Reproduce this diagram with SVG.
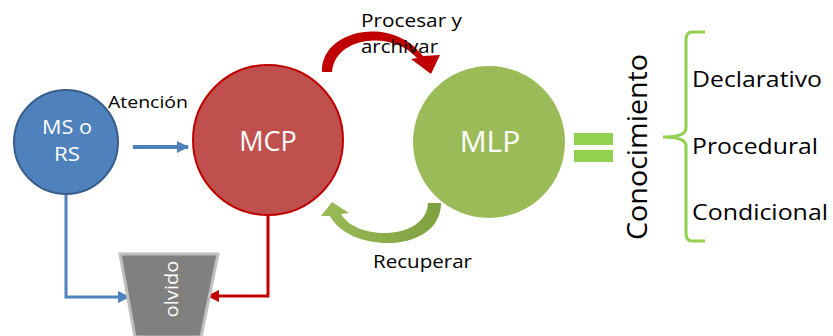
<svg xmlns="http://www.w3.org/2000/svg" width="833" height="336" viewBox="0 0 833 336">
<style>
.lbl{font-family:"Open Sans","Liberation Sans",sans-serif;fill:#000}
.wt{font-family:"Open Sans","Liberation Sans",sans-serif;fill:#fff}
.c{text-anchor:middle}
</style>
<defs>
<marker id="ab" markerWidth="12" markerHeight="12" refX="11" refY="6" orient="auto" markerUnits="userSpaceOnUse"><path d="M0,0 L12,6 L0,12 Z" fill="#4F81BD"/></marker>
<marker id="ar" markerWidth="12" markerHeight="12" refX="11" refY="6" orient="auto" markerUnits="userSpaceOnUse"><path d="M0,0 L12,6 L0,12 Z" fill="#C00000"/></marker>
<linearGradient id="gg" x1="0" y1="0" x2="1" y2="0"><stop offset="0" stop-color="#9BBB59"/><stop offset="1" stop-color="#7FA03F"/></linearGradient>
</defs>
<rect width="833" height="336" fill="#fff"/>
<g id="connectors">
<line x1="133" y1="147" x2="188" y2="147" stroke="#4F81BD" stroke-width="4" marker-end="url(#ab)"/>
<path d="M66,195 V297 H129" fill="none" stroke="#4F81BD" stroke-width="3" marker-end="url(#ab)"/>
<path d="M268,216 V296 H208" fill="none" stroke="#C00000" stroke-width="3" marker-end="url(#ar)"/>
<path d="M322,72 C320,30 392,14 423,56 L440,55 L431,74 L411,59 L417,58 C392,30 335,36 332,72 Z" fill="#C00000"/>
<path d="M441,203 C441,254 350,254 330,216 L321,216 L332,202 L349,213 L341,214 C356,241 426,241 428,203 Z" fill="url(#gg)"/>
</g>
<g id="ms">
<circle cx="66" cy="142" r="52" fill="#4F81BD" stroke="#385D8A" stroke-width="2"/>
<text class="wt c" x="67" y="134" font-size="20" textLength="50" lengthAdjust="spacingAndGlyphs">MS o</text>
<text class="wt c" x="67" y="161" font-size="20" textLength="26" lengthAdjust="spacingAndGlyphs">RS</text>
</g>
<text class="lbl" x="108" y="108" font-size="16" textLength="80" lengthAdjust="spacingAndGlyphs">Atención</text>
<g id="mcp">
<circle cx="268" cy="140" r="75" fill="#C0504D" stroke="#C00000" stroke-width="2"/>
<text class="wt c" x="268" y="151" font-size="27">MCP</text>
</g>
<g id="mlp">
<circle cx="489" cy="142" r="76" fill="#9BBB59"/>
<text class="wt c" x="490" y="152" font-size="30">MLP</text>
</g>
<g id="olvido">
<path d="M120,254 H218 L201,337 H135 Z" fill="#808080" stroke="#BFBFBF" stroke-width="3"/>
<text class="wt c" transform="translate(178,289) rotate(-90)" font-size="19" textLength="57" lengthAdjust="spacingAndGlyphs">olvido</text>
</g>
<text class="lbl" x="361" y="27" font-size="19" textLength="101" lengthAdjust="spacingAndGlyphs">Procesar y</text>
<text class="lbl" x="361" y="53" font-size="19" textLength="77" lengthAdjust="spacingAndGlyphs">archivar</text>
<text class="lbl" x="373" y="268" font-size="19" textLength="99" lengthAdjust="spacingAndGlyphs">Recuperar</text>
<g id="equals">
<rect x="574" y="133" width="39" height="12" fill="#92D050"/>
<rect x="574" y="150" width="39" height="12" fill="#92D050"/>
</g>
<text class="lbl c" transform="translate(647,147) rotate(-90)" font-size="28" textLength="186" lengthAdjust="spacingAndGlyphs">Conocimiento</text>
<path id="bracket" d="M705,32 H692 Q686,32 686,40 V128 Q686,137 663,137 Q686,137 686,146 V233 Q686,241 692,241 H705" fill="none" stroke="#92D050" stroke-width="3"/>
<text class="lbl" x="692" y="87" font-size="21" textLength="130" lengthAdjust="spacingAndGlyphs">Declarativo</text>
<text class="lbl" x="692" y="154" font-size="21" textLength="126" lengthAdjust="spacingAndGlyphs">Procedural</text>
<text class="lbl" x="692" y="220" font-size="21" textLength="136" lengthAdjust="spacingAndGlyphs">Condicional</text>
</svg>
